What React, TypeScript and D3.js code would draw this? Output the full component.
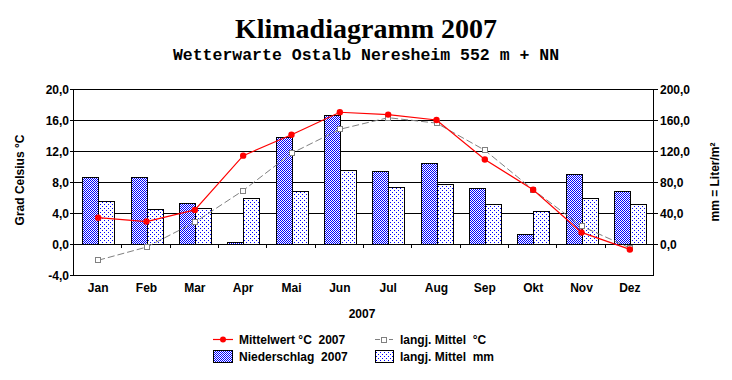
import React from "react";
import * as d3 from "d3";

const months = ["Jan", "Feb", "Mar", "Apr", "Mai", "Jun", "Jul", "Aug", "Sep", "Okt", "Nov", "Dez"];
const precip2007 = [86, 86, 52.5, 2, 138, 166, 94, 104, 72, 12.5, 90, 68];
const precipLongTerm = [55, 45, 46, 60, 69, 96, 73, 77, 51, 42, 60, 51];
const temp2007 = [3.4, 2.9, 4.4, 11.4, 14.1, 17.0, 16.7, 16.0, 10.9, 7.0, 1.5, -0.7];
const tempLongTerm = [-2.1, -0.4, 2.8, 6.9, 11.7, 14.8, 16.3, 15.6, 12.1, 7.0, 2.3, -0.5];
const tempTicks = [-4, 0, 4, 8, 12, 16, 20];
const mmTicks = [0, 40, 80, 120, 160, 200];

const W = 732;
const H = 380;
const left = 73;
const right = 653;
const top = 89;
const bottom = 275;

const fmt = (v: number) => v.toFixed(1).replace(".", ",");

export default function App() {
  const x = d3.scaleBand<string>().domain(months).range([left, right]).padding(0);
  const yT = d3.scaleLinear().domain([-4, 20]).range([bottom, top]);
  const yM = d3.scaleLinear().domain([-40, 200]).range([bottom, top]);
  const bw = 16;
  const cx = (m: string) => (x(m) as number) + x.bandwidth() / 2 + 1;

  const line = d3
    .line<number>()
    .x((_, i) => cx(months[i]))
    .y((d) => yT(d));

  const font = "Liberation Sans, Arial, sans-serif";
  const r = (v: number) => Math.round(v) + 0.5;

  return (
    <svg width={W} height={H} style={{ position: "absolute", left: 0, top: 0 }} xmlns="http://www.w3.org/2000/svg">
      <defs>
        <pattern id="checker" width={2} height={2} patternUnits="userSpaceOnUse">
          <rect width={2} height={2} fill="#ffffff" />
          <rect x={0} y={0} width={1} height={1} fill="#0000ff" />
          <rect x={1} y={1} width={1} height={1} fill="#0000ff" />
        </pattern>
        <pattern id="dots" width={4} height={4} patternUnits="userSpaceOnUse">
          <rect width={4} height={4} fill="#ffffff" />
          <rect x={0} y={0} width={1} height={1} fill="#0000ff" />
          <rect x={2} y={2} width={1} height={1} fill="#0000ff" />
        </pattern>
      </defs>
      <rect width={W} height={H} fill="#ffffff" />

      <text x={366} y={38} textAnchor="middle" fontFamily="Liberation Serif, Times New Roman, serif" fontWeight="bold" fontSize={28}>
        Klimadiagramm 2007
      </text>
      <text x={366} y={60} textAnchor="middle" fontFamily="Liberation Mono, Courier New, monospace" fontWeight="600" fontSize={16.5} style={{ whiteSpace: "pre" }}>
        Wetterwarte Ostalb Neresheim 552 m + NN
      </text>

      {/* gridlines */}
      {tempTicks.map((t) => (
        <line key={"g" + t} x1={left} x2={right} y1={r(yT(t))} y2={r(yT(t))} stroke="#000" strokeWidth={1} shapeRendering="crispEdges" />
      ))}

      {/* bars */}
      {months.map((m, i) => (
        <g key={"b" + m}>
          <rect
            x={r(cx(m) - bw)}
            y={r(yM(precip2007[i]))}
            width={bw}
            height={Math.round(yM(0)) - Math.round(yM(precip2007[i]))}
            fill="url(#checker)"
            stroke="#000"
            shapeRendering="crispEdges"
          />
          <rect
            x={r(cx(m))}
            y={r(yM(precipLongTerm[i]))}
            width={bw}
            height={Math.round(yM(0)) - Math.round(yM(precipLongTerm[i]))}
            fill="url(#dots)"
            stroke="#000"
            shapeRendering="crispEdges"
          />
        </g>
      ))}

      {/* axes */}
      <line x1={r(left)} x2={r(left)} y1={top} y2={bottom + 1} stroke="#000" shapeRendering="crispEdges" />
      <line x1={r(right)} x2={r(right)} y1={top} y2={bottom + 1} stroke="#000" shapeRendering="crispEdges" />
      {tempTicks.map((t) => (
        <g key={"lt" + t}>
          <line x1={left - 3} x2={left} y1={r(yT(t))} y2={r(yT(t))} stroke="#000" shapeRendering="crispEdges" />
          <text x={left - 4} y={yT(t) + 4.5} textAnchor="end" fontFamily={font} fontWeight="bold" fontSize={12}>
            {fmt(t)}
          </text>
        </g>
      ))}
      {mmTicks.map((t) => (
        <g key={"rt" + t}>
          <line x1={right} x2={right + 5} y1={r(yM(t))} y2={r(yM(t))} stroke="#000" shapeRendering="crispEdges" />
          <text x={right + 7} y={yM(t) + 4.5} textAnchor="start" fontFamily={font} fontWeight="bold" fontSize={12}>
            {fmt(t)}
          </text>
        </g>
      ))}
      {months.slice(1).map((m) => (
        <line key={"xt" + m} x1={r(x(m) as number)} x2={r(x(m) as number)} y1={yT(0)} y2={yT(0) + 4} stroke="#000" shapeRendering="crispEdges" />
      ))}
      {months.map((m) => (
        <text key={"xl" + m} x={cx(m)} y={292} textAnchor="middle" fontFamily={font} fontWeight="bold" fontSize={12}>
          {m}
        </text>
      ))}
      <text x={362} y={318} textAnchor="middle" fontFamily={font} fontWeight="bold" fontSize={12}>
        2007
      </text>
      <text transform="translate(24,180) rotate(-90)" textAnchor="middle" fontFamily={font} fontWeight="bold" fontSize={12}>
        Grad Celsius °C
      </text>
      <text transform="translate(719,182) rotate(-90)" textAnchor="middle" fontFamily={font} fontWeight="bold" fontSize={12}>
        mm = Liter/m²
      </text>

      {/* long-term temperature */}
      <path d={line(tempLongTerm) || ""} fill="none" stroke="#808080" strokeWidth={1} strokeDasharray="7,3" />
      {tempLongTerm.map((t, i) => (
        <rect key={"sq" + i} x={Math.round(cx(months[i])) - 2.5} y={Math.round(yT(t)) - 2.5} width={5} height={5} fill="#ffffff" stroke="#808080" strokeWidth={1} />
      ))}

      {/* 2007 temperature */}
      <path d={line(temp2007) || ""} fill="none" stroke="#ff0000" strokeWidth={1.2} />
      {temp2007.map((t, i) => (
        <circle key={"c" + i} cx={cx(months[i])} cy={yT(t)} r={3.2} fill="#ff0000" />
      ))}

      {/* legend */}
      <g fontFamily={font} fontWeight="bold" fontSize={12}>
        <line x1={213} x2={233} y1={339.5} y2={339.5} stroke="#ff0000" strokeWidth={1.2} />
        <circle cx={223} cy={339.5} r={3} fill="#ff0000" />
        <text x={239} y={344} style={{ whiteSpace: "pre" }}>Mittelwert °C  2007</text>
        <line x1={375} x2={393} y1={339.5} y2={339.5} stroke="#808080" strokeDasharray="5,2" />
        <rect x={381.5} y={337.5} width={5} height={5} fill="#fff" stroke="#808080" />
        <text x={400} y={344} style={{ whiteSpace: "pre" }}>langj. Mittel  °C</text>
        <rect x={213.5} y={350.5} width={19} height={12} fill="url(#checker)" stroke="#000" shapeRendering="crispEdges" />
        <text x={239} y={361} style={{ whiteSpace: "pre" }}>Niederschlag  2007</text>
        <rect x={375.5} y={350.5} width={18} height={12} fill="url(#dots)" stroke="#000" shapeRendering="crispEdges" />
        <text x={400} y={361} style={{ whiteSpace: "pre" }}>langj. Mittel  mm</text>
      </g>
    </svg>
  );
}
